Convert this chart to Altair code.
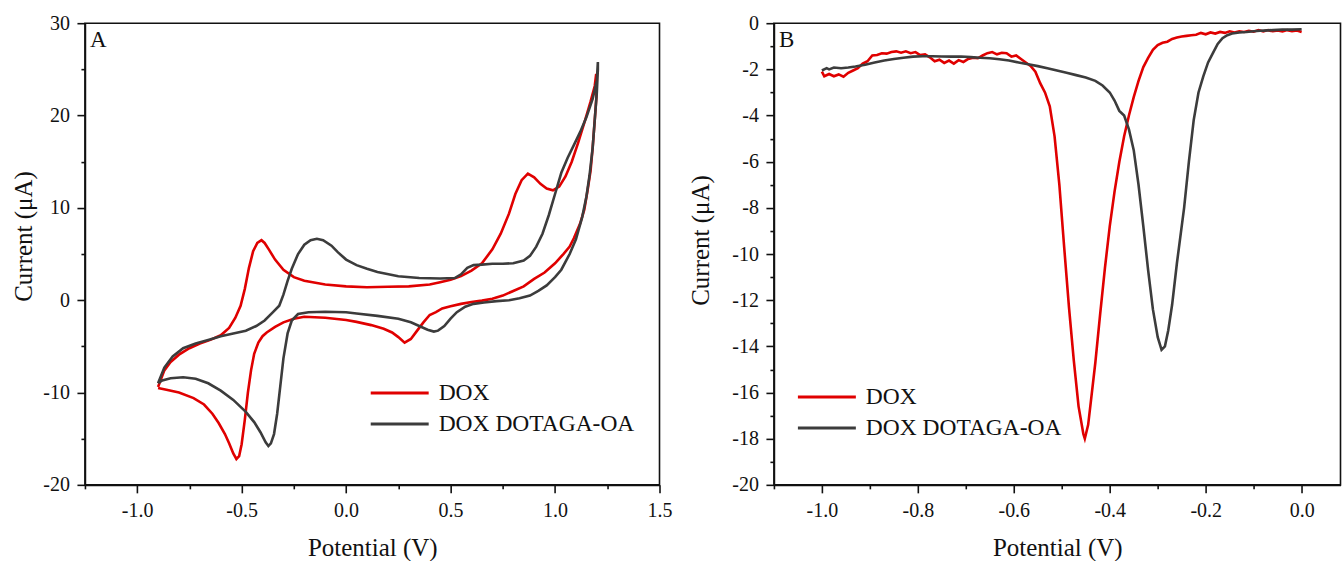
import altair as alt
import pandas as pd

# ---------------- Panel A: cyclic voltammograms ----------------
cv_dox_x = [-0.90, -0.87, -0.84, -0.80, -0.75, -0.70, -0.65, -0.60, -0.56, -0.53, -0.505, -0.485, -0.465,
            -0.445, -0.425, -0.405, -0.39, -0.37, -0.34, -0.30, -0.25, -0.20, -0.10, 0.00, 0.10, 0.20, 0.30,
            0.40, 0.45, 0.50, 0.55, 0.60, 0.65, 0.70, 0.74, 0.78, 0.81, 0.84, 0.87, 0.90, 0.93, 0.96, 0.99,
            1.02, 1.05, 1.08, 1.11, 1.14, 1.17, 1.19, 1.197,
            1.198, 1.19, 1.18, 1.17, 1.155, 1.14, 1.12, 1.09, 1.07, 1.04, 1.00, 0.95, 0.90, 0.85, 0.80, 0.75,
            0.70, 0.65, 0.60, 0.55, 0.50, 0.46, 0.43, 0.40, 0.37, 0.34, 0.31, 0.28, 0.25, 0.22, 0.18, 0.12,
            0.05, 0.00, -0.10, -0.20, -0.25, -0.30, -0.34, -0.38, -0.40, -0.42, -0.44, -0.455, -0.47, -0.485,
            -0.50, -0.512, -0.525, -0.54, -0.56, -0.58, -0.61, -0.64, -0.68, -0.73, -0.80, -0.86, -0.90]
cv_dox_y = [-9.4, -7.6, -6.7, -5.9, -5.2, -4.7, -4.3, -3.8, -3.0, -1.9, -0.6, 1.2, 3.5,
            5.3, 6.2, 6.5, 6.2, 5.5, 4.4, 3.3, 2.5, 2.1, 1.7, 1.5, 1.4, 1.45, 1.5,
            1.7, 1.95, 2.2, 2.6, 3.2, 4.0, 5.5, 7.2, 9.4, 11.5, 13.0, 13.7, 13.3, 12.6, 12.1, 11.9,
            12.3, 13.4, 15.0, 17.0, 19.2, 21.5, 23.2, 24.5,
            22.0, 19.5, 16.5, 14.0, 11.8, 9.8, 8.3, 6.7, 5.8, 5.0, 4.0, 3.0, 2.3, 1.5, 1.0, 0.5,
            0.15, -0.05, -0.2, -0.4, -0.65, -0.9, -1.3, -1.6, -2.4, -3.3, -4.2, -4.6, -4.0, -3.5, -3.1, -2.7,
            -2.35, -2.15, -1.9, -1.8, -2.0, -2.4, -2.9, -3.5, -3.9, -4.6, -5.8, -7.6, -10.0, -13.0,
            -15.6, -16.9, -17.2, -16.6, -15.5, -14.5, -13.3, -12.3, -11.3, -10.6, -10.0, -9.7, -9.5]

cv_ota_x = [-0.90, -0.87, -0.83, -0.78, -0.72, -0.66, -0.60, -0.54, -0.48, -0.43, -0.39, -0.35, -0.32,
            -0.30, -0.28, -0.26, -0.23, -0.20, -0.17, -0.14, -0.11, -0.07, -0.04, 0.00, 0.05, 0.10, 0.15,
            0.25, 0.35, 0.45, 0.52, 0.55, 0.58, 0.61, 0.65, 0.70, 0.75, 0.80, 0.85, 0.88, 0.91, 0.94, 0.97,
            1.00, 1.03, 1.06, 1.09, 1.12, 1.15, 1.18, 1.20, 1.205,
            1.205, 1.20, 1.19, 1.18, 1.165, 1.15, 1.13, 1.10, 1.07, 1.03, 1.00, 0.96, 0.92, 0.88, 0.83,
            0.78, 0.72, 0.66, 0.61, 0.57, 0.53, 0.50, 0.47, 0.44, 0.42, 0.39, 0.35, 0.31, 0.25, 0.15, 0.05,
            0.00, -0.10, -0.18, -0.23, -0.26, -0.28, -0.30, -0.315, -0.33, -0.345, -0.36, -0.372, -0.385,
            -0.41, -0.44, -0.48, -0.54, -0.60, -0.66, -0.72, -0.78, -0.84, -0.88, -0.90]
cv_ota_y = [-9.0, -7.3, -6.1, -5.2, -4.7, -4.3, -3.9, -3.6, -3.3, -2.8, -2.2, -1.3, -0.6,
            0.6, 2.1, 3.4, 5.0, 6.0, 6.5, 6.65, 6.5, 5.9, 5.2, 4.4, 3.8, 3.4, 3.05,
            2.6, 2.4, 2.35, 2.4, 2.8, 3.5, 3.8, 3.85, 3.95, 3.95, 4.0, 4.3, 4.8, 5.8, 7.2, 9.2,
            11.5, 13.8, 15.4, 16.8, 18.2, 19.8, 21.8, 23.8, 25.8,
            25.0, 22.5, 19.5, 16.5, 13.5, 11.2, 9.0, 6.6, 5.0, 3.3, 2.5, 1.6, 1.0, 0.5, 0.2,
            0.0, -0.1, -0.25, -0.4, -0.7, -1.3, -2.0, -2.8, -3.3, -3.4, -3.2, -2.8, -2.4, -2.0, -1.7, -1.45,
            -1.3, -1.25, -1.3, -1.5, -2.2, -3.6, -6.3, -9.3, -12.3, -14.5, -15.5, -15.8, -15.4,
            -14.3, -13.2, -12.1, -10.8, -9.8, -9.0, -8.5, -8.35, -8.45, -8.7, -9.0]

# ---------------- Panel B: differential pulse voltammograms ----------------
dpv_dox_x = [-1.000, -0.995, -0.985, -0.975, -0.965, -0.955, -0.945, -0.935, -0.925, -0.915, -0.905,
             -0.895, -0.885, -0.875, -0.865, -0.855, -0.845, -0.835, -0.825, -0.815, -0.805, -0.795,
             -0.785, -0.775, -0.765, -0.755, -0.745, -0.735, -0.725, -0.715, -0.705, -0.695, -0.685,
             -0.675, -0.665, -0.655, -0.645, -0.635, -0.625, -0.615, -0.605, -0.595, -0.585, -0.575,
             -0.565, -0.555, -0.545, -0.535, -0.525, -0.515, -0.505, -0.495, -0.485, -0.475, -0.465,
             -0.455, -0.452, -0.445, -0.44, -0.43, -0.42, -0.41, -0.40, -0.39, -0.38, -0.37, -0.36,
             -0.35, -0.34, -0.33, -0.32, -0.31, -0.30, -0.29, -0.28, -0.27, -0.26, -0.25, -0.24, -0.23,
             -0.22, -0.21, -0.20, -0.19, -0.18, -0.17, -0.16, -0.15, -0.14, -0.13, -0.12, -0.11, -0.10,
             -0.09, -0.08, -0.07, -0.06, -0.05, -0.04, -0.03, -0.02, -0.01, 0.00]
dpv_dox_y = [-2.10, -2.30, -2.20, -2.30, -2.22, -2.32, -2.15, -2.05, -1.95, -1.75, -1.65,
             -1.40, -1.38, -1.30, -1.32, -1.25, -1.22, -1.28, -1.22, -1.30, -1.25, -1.38,
             -1.35, -1.48, -1.65, -1.58, -1.72, -1.62, -1.75, -1.60, -1.68, -1.55, -1.50,
             -1.52, -1.40, -1.30, -1.25, -1.35, -1.28, -1.30, -1.45, -1.40, -1.55, -1.70,
             -1.85, -2.10, -2.60, -3.00, -3.60, -4.90, -7.00, -9.70, -12.3, -14.6, -16.6,
             -17.8, -18.0, -17.4, -16.5, -14.7, -12.6, -10.6, -8.8, -7.3, -6.0, -4.9, -4.0,
             -3.2, -2.5, -1.9, -1.5, -1.15, -0.95, -0.85, -0.80, -0.68, -0.62, -0.58, -0.55, -0.52,
             -0.50, -0.42, -0.48, -0.40, -0.45, -0.38, -0.42, -0.35, -0.40, -0.35, -0.38, -0.33, -0.37,
             -0.30, -0.36, -0.30, -0.35, -0.32, -0.36, -0.30, -0.35, -0.32, -0.38]

dpv_ota_x = [-1.000, -0.990, -0.985, -0.975, -0.960, -0.945, -0.930, -0.910, -0.890, -0.870, -0.850,
             -0.830, -0.810, -0.790, -0.770, -0.750, -0.730, -0.710, -0.690, -0.670, -0.650, -0.630,
             -0.610, -0.590, -0.570, -0.550, -0.530, -0.510, -0.490, -0.470, -0.450, -0.430, -0.415,
             -0.400, -0.390, -0.380, -0.370, -0.360, -0.350, -0.340, -0.330, -0.320, -0.310, -0.300,
             -0.292, -0.285, -0.278, -0.270, -0.260, -0.245, -0.235, -0.225, -0.215, -0.205, -0.195,
             -0.185, -0.175, -0.165, -0.155, -0.145, -0.130, -0.115, -0.100, -0.080, -0.060, -0.040,
             -0.020, 0.000]
dpv_ota_y = [-2.05, -1.95, -2.00, -1.92, -1.95, -1.92, -1.88, -1.80, -1.70, -1.62, -1.55,
             -1.50, -1.45, -1.43, -1.43, -1.44, -1.45, -1.44, -1.47, -1.50, -1.52, -1.56,
             -1.62, -1.70, -1.78, -1.86, -1.95, -2.05, -2.15, -2.25, -2.35, -2.50, -2.70,
             -3.00, -3.35, -3.80, -4.00, -4.60, -5.50, -7.00, -8.80, -10.7, -12.4, -13.6,
             -14.15, -14.0, -13.3, -12.2, -10.4, -8.0, -6.0, -4.2, -3.0, -2.3, -1.7,
             -1.3, -0.9, -0.65, -0.52, -0.45, -0.40, -0.38, -0.35, -0.32, -0.30, -0.28,
             -0.28, -0.26]

series_names = ["DOX", "DOX DOTAGA-OA"]
series_colors = ["#e00000", "#3c3c3c"]

FONT = "Liberation Serif"


def table(xs_ys):
    rows = []
    for name, (xs, ys) in zip(series_names, xs_ys):
        for i, (x, y) in enumerate(zip(xs, ys)):
            rows.append({"x": x, "y": y, "series": name, "i": i})
    return pd.DataFrame(rows)


dfA = table([(cv_dox_x, cv_dox_y), (cv_ota_x, cv_ota_y)])
dfB = table([(dpv_dox_x, dpv_dox_y), (dpv_ota_x, dpv_ota_y)])

color_scale = alt.Scale(domain=series_names, range=series_colors)


def make_axis(title, values, major_test, fmt, title_pad, label_pad, **extra):
    label_expr = f"({major_test}) ? replace(format(datum.value, '{fmt}'), '\u2212', '-') : ''"
    return alt.Axis(
        title=title, values=values, labelExpr=label_expr, grid=False,
        tickSize={"condition": {"test": major_test, "value": 8}, "value": 4},
        titlePadding=title_pad, labelPadding=label_pad, labelFlush=False,
        labelOverlap=False, **extra
    )


def panel(df, letter, xdom, xvals, xtest, yvals, ytest, width, height, leg_x, leg_y, ytitle_pad, ytitle_y):
    x_enc = alt.X("x:Q", scale=alt.Scale(domain=xdom, nice=False, zero=False),
                  axis=make_axis("Potential (V)", xvals, xtest, ".1f", 15, 8))
    y_enc = alt.Y("y:Q", scale=alt.Scale(domain=[yvals[0], yvals[-1]], nice=False, zero=False),
                  axis=make_axis("Current (\u03bcA)", yvals, ytest, "d", ytitle_pad, 7.5,
                                 titleY=ytitle_y))
    lines = alt.Chart(df).mark_line(strokeWidth=2.6, clip=True).encode(
        x=x_enc, y=y_enc,
        color=alt.Color("series:N", scale=color_scale,
                        legend=alt.Legend(title=None, orient="none", legendX=leg_x, legendY=leg_y,
                                          symbolType="M-2,0H2", symbolSize=841, symbolStrokeWidth=3,
                                          labelFont=FONT, labelFontSize=23.5, labelColor="#111",
                                          labelOffset=23, rowPadding=3, labelLimit=400)),
        order=alt.Order("i:Q"),
    )
    letter_df = pd.DataFrame({"t": [letter]})
    text = alt.Chart(letter_df).mark_text(align="left", baseline="middle", font=FONT, fontSize=23,
                                          color="#111").encode(
        x=alt.value(5), y=alt.value(17), text="t:N")
    return alt.layer(lines, text).properties(width=width, height=height)


xA_vals = [-1.25, -1.0, -0.75, -0.5, -0.25, 0.0, 0.25, 0.5, 0.75, 1.0, 1.25, 1.5]
yA_vals = [-20, -15, -10, -5, 0, 5, 10, 15, 20, 25, 30]
xB_vals = [-1.1, -1.0, -0.9, -0.8, -0.7, -0.6, -0.5, -0.4, -0.3, -0.2, -0.1, 0.0]
yB_vals = list(range(-20, 1))

chartA = panel(dfA, "A", [-1.25, 1.5], xA_vals,
               "abs(datum.value*2 - round(datum.value*2)) < 0.001",
               yA_vals, "datum.value % 10 === 0", 575, 462, 299, 354, 6.5, 213)
chartB = panel(dfB, "B", [-1.1, 0.081], xB_vals,
               "abs(round(datum.value*10)) % 2 === 0",
               yB_vals, "abs(datum.value) % 2 === 0", 567, 462, 37, 358, 18, 217)

chart = alt.hconcat(chartA, chartB, spacing=14.5).resolve_legend(color="independent").properties(
    padding={"left": 10, "top": 12, "right": 0, "bottom": 0},
    background="white",
).configure_view(stroke="#111", strokeWidth=1.6).configure_axis(
    domainColor="#111", domainWidth=1.6, tickColor="#111", tickWidth=1.6,
    labelFont=FONT, labelFontSize=20, labelColor="#111",
    titleFont=FONT, titleFontSize=25, titleFontWeight="normal", titleColor="#111",
)

chart.save("out.html", embed_options={"renderer": "svg", "actions": False})
